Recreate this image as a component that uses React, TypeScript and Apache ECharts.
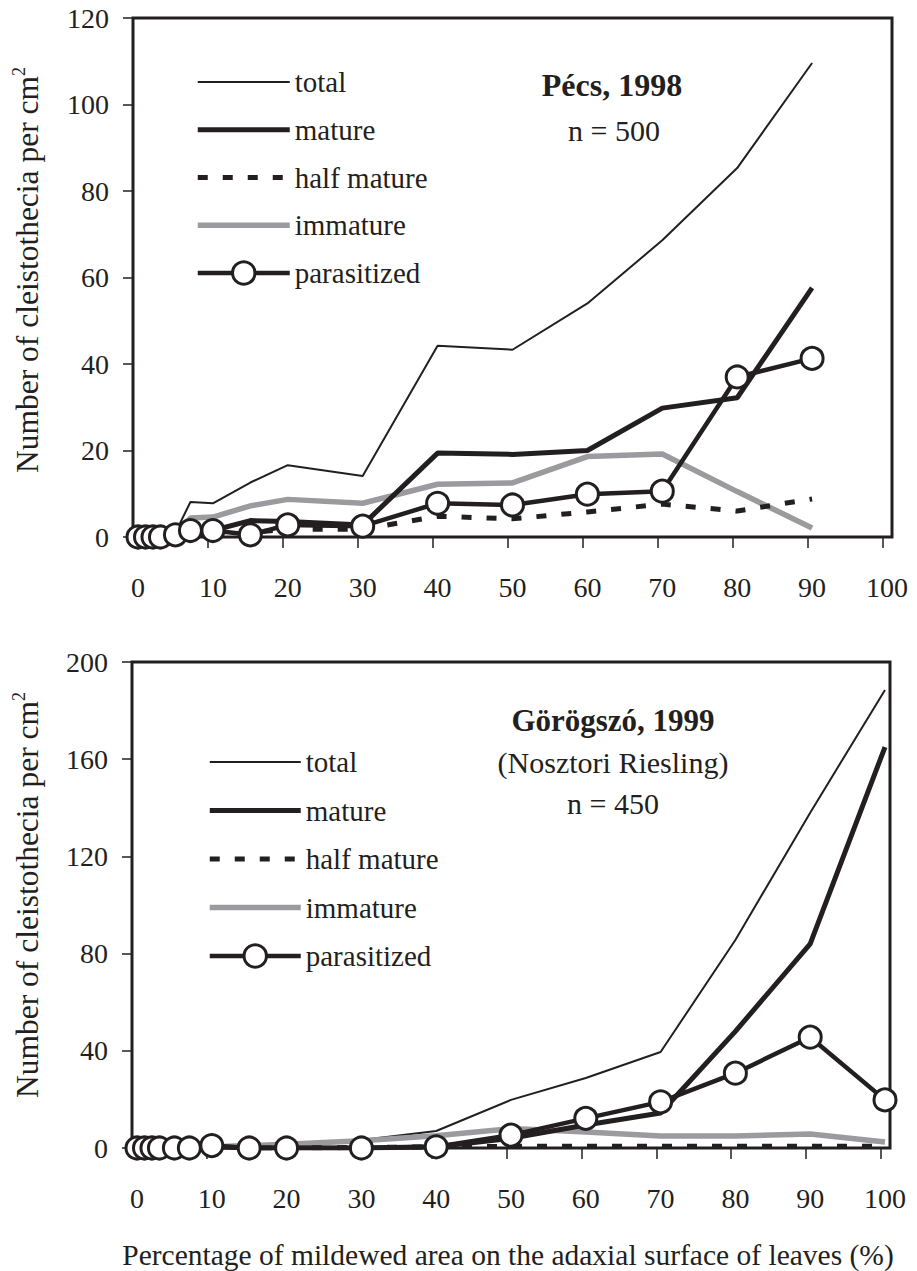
import React, { useEffect, useRef } from 'react';
import * as echarts from 'echarts';

const FONT = '"Liberation Serif", "Times New Roman", Times, serif';
const INK = '#231f20';
const GRAY = '#9b9b9f';

const xTickValues = [0, 10, 20, 30, 40, 50, 60, 70, 80, 90, 100];

// Top panel: Pécs, 1998
const xTop = [0, 1, 2, 3, 5, 7, 10, 15, 20, 30, 40, 50, 60, 70, 80, 90];
const totalTop = [0, 0, 0, 0, 1, 8.1, 7.8, 12.6, 16.6, 14.1, 44.2, 43.3, 54, 68.6, 85.3, 109.6];
const matureTop = [0, 0, 0, 0, 0, 0.5, 1.5, 3.8, 3.6, 2.8, 19.4, 19.1, 20, 29.8, 32.2, 57.6];
const halfTop = [0, 0, 0, 0, 0, 0, 0.3, 1, 1.8, 1.8, 4.8, 4.2, 5.8, 7.6, 6, 8.8];
const immTop = [0, 0, 0, 0, 0.5, 4.4, 4.6, 7.2, 8.7, 7.8, 12.2, 12.5, 18.6, 19.2, 10.5, 2.1];
const parTop = [0, 0, 0, 0, 0.5, 1.5, 1.5, 0.5, 2.8, 2.5, 7.8, 7.4, 9.9, 10.6, 37, 41.3];

// Bottom panel: Görögszó, 1999
const xBot = [0, 1, 2, 3, 5, 7, 10, 15, 20, 30, 40, 50, 60, 70, 80, 90, 100];
const totalBot = [0, 0, 0, 0, 0, 0, 1, 1, 1.5, 3.3, 7, 19.8, 28.8, 39.5, 85.6, 138, 188.5];
const matureBot = [0, 0, 0, 0, 0, 0, 0.5, 0, 0, 0, 0.5, 4, 9.5, 14.4, 48, 84, 165];
const halfBot = [0, 0, 0, 0, 0, 0, 0, 0, 0, 0.2, 0.5, 0.7, 0.7, 0.7, 0.7, 0.7, 0.7];
const immBot = [0, 0, 0, 0, 0, 0, 0.5, 1, 1.5, 3, 5, 8, 6.6, 4.9, 4.9, 5.8, 2.5];
const parBot = [0, 0, 0, 0, 0, 0, 1, 0, 0, 0, 0.5, 5.3, 12.2, 19, 30.8, 45.6, 19.8];

const legendNames = ['total', 'mature', 'half mature', 'immature', 'parasitized'];
const markerSeries = ['parasitized'];

function pairs(xs: number[], ys: number[]) {
  return xs.map((x, i) => [x, ys[i]]);
}

function panelSeries(xAxisIndex: number, yAxisIndex: number, xs: number[], d: any) {
  const base = { type: 'line', xAxisIndex, yAxisIndex, symbol: 'none', silent: true };
  return [
    { ...base, name: 'total', data: pairs(xs, d.total), lineStyle: { color: INK, width: 2 }, itemStyle: { color: INK, opacity: 0 } },
    { ...base, name: 'immature', data: pairs(xs, d.imm), lineStyle: { color: GRAY, width: 5.5 }, itemStyle: { color: GRAY, opacity: 0 } },
    { ...base, name: 'half mature', data: pairs(xs, d.half), lineStyle: { color: INK, width: 5, type: [10, 15], cap: 'butt' }, itemStyle: { color: INK, opacity: 0 } },
    { ...base, name: 'mature', data: pairs(xs, d.mature), lineStyle: { color: INK, width: 5 }, itemStyle: { color: INK, opacity: 0 } },
    {
      ...base,
      name: 'parasitized',
      data: pairs(xs, d.par),
      symbol: 'circle',
      symbolSize: 22,
      showSymbol: true,
      lineStyle: { color: INK, width: 4.5 },
      itemStyle: { color: '#ffffff', borderColor: INK, borderWidth: 3 },
    },
  ];
}

function tickAxis(gridIndex: number) {
  return {
    type: 'value', gridIndex, position: 'bottom', min: 0, max: 101.2,
    axisLine: { show: false },
    axisTick: { show: true, length: 11, customValues: xTickValues, lineStyle: { color: INK, width: 1.5 } },
    axisLabel: { show: false },
    splitLine: { show: false },
  };
}

function dataAxis(gridIndex: number) {
  return {
    type: 'value', gridIndex, position: 'bottom', min: -0.667, max: 100.67,
    axisLine: { show: false },
    axisTick: { show: false },
    axisLabel: { show: true, customValues: xTickValues, margin: 36, fontFamily: FONT, fontSize: 28, color: INK },
    splitLine: { show: false },
  };
}

function yAxis(gridIndex: number, max: number, interval: number) {
  return {
    type: 'value', gridIndex, min: 0, max, interval,
    axisLine: { show: false },
    axisTick: { show: true, length: 10, lineStyle: { color: INK, width: 1.5 } },
    axisLabel: { margin: 24, fontFamily: FONT, fontSize: 28, color: INK },
    splitLine: { show: false },
  };
}

function legend(left: number, top: number, gap: number, itemWidth: number) {
  return {
    data: legendNames.map((name) =>
      markerSeries.includes(name) ? { name } : { name, itemStyle: { opacity: 0 } }
    ),
    orient: 'vertical', left, top, padding: 0,
    itemWidth, itemHeight: 28, itemGap: gap, selectedMode: false,
    lineStyle: { width: 'inherit', type: 'inherit', color: 'inherit' },
    itemStyle: { borderWidth: 'inherit' },
    textStyle: { fontFamily: FONT, fontSize: 29, color: INK },
  };
}

const yTitleRich = {
  sup: { fontFamily: FONT, fontSize: 18, fill: INK, verticalAlign: 'top', lineHeight: 18 },
};

export default function App() {
  const ref = useRef<HTMLDivElement>(null);
  useEffect(() => {
    if (!ref.current) return;
    const chart = echarts.init(ref.current, undefined, { renderer: 'svg' });
    chart.setOption({
      animation: false,
      backgroundColor: '#ffffff',
      grid: [
        { left: 133, top: 18, right: 25, bottom: 734, show: true, borderColor: INK, borderWidth: 3, backgroundColor: 'transparent' },
        { left: 132, top: 662, right: 27, bottom: 123, show: true, borderColor: INK, borderWidth: 3, backgroundColor: 'transparent' },
      ],
      xAxis: [tickAxis(0), dataAxis(0), tickAxis(1), dataAxis(1)],
      yAxis: [yAxis(0, 120, 20), yAxis(1, 200, 40)],
      legend: [legend(195, 67.5, 18.75, 92), legend(207, 747.5, 19.5, 91)],
      series: [
        ...panelSeries(1, 0, xTop, { total: totalTop, mature: matureTop, half: halfTop, imm: immTop, par: parTop }),
        ...panelSeries(3, 1, xBot, { total: totalBot, mature: matureBot, half: halfBot, imm: immBot, par: parBot }),
      ],
      graphic: [
        { type: 'text', x: 612, y: 85, style: { text: 'Pécs, 1998', fontFamily: FONT, fontWeight: 'bold', fontSize: 32, fill: INK, align: 'center', verticalAlign: 'middle' } },
        { type: 'text', x: 614, y: 130, style: { text: 'n = 500', fontFamily: FONT, fontSize: 30, fill: INK, align: 'center', verticalAlign: 'middle' } },
        { type: 'text', x: 613, y: 720, style: { text: 'Görögszó, 1999', fontFamily: FONT, fontWeight: 'bold', fontSize: 31, fill: INK, align: 'center', verticalAlign: 'middle' } },
        { type: 'text', x: 613, y: 762, style: { text: '(Nosztori Riesling)', fontFamily: FONT, fontSize: 30, fill: INK, align: 'center', verticalAlign: 'middle' } },
        { type: 'text', x: 613, y: 803, style: { text: 'n = 450', fontFamily: FONT, fontSize: 30, fill: INK, align: 'center', verticalAlign: 'middle' } },
        {
          type: 'text', x: 27, y: 270, rotation: Math.PI / 2,
          style: { text: 'Number of cleistothecia per cm{sup|2}', rich: yTitleRich, fontFamily: FONT, fontSize: 31.5, lineHeight: 34, fill: INK, align: 'center', verticalAlign: 'middle' },
        },
        {
          type: 'text', x: 27, y: 895, rotation: Math.PI / 2,
          style: { text: 'Number of cleistothecia per cm{sup|2}', rich: yTitleRich, fontFamily: FONT, fontSize: 31.5, lineHeight: 34, fill: INK, align: 'center', verticalAlign: 'middle' },
        },
        { type: 'text', x: 508, y: 1255, style: { text: 'Percentage of mildewed area on the adaxial surface of leaves (%)', fontFamily: FONT, fontSize: 29.5, lineHeight: 26, fill: INK, align: 'center', verticalAlign: 'middle' } },
      ],
    });
    return () => chart.dispose();
  }, []);
  return <div ref={ref} style={{ position: 'absolute', left: 0, top: 0, width: 917, height: 1271 }} />;
}
